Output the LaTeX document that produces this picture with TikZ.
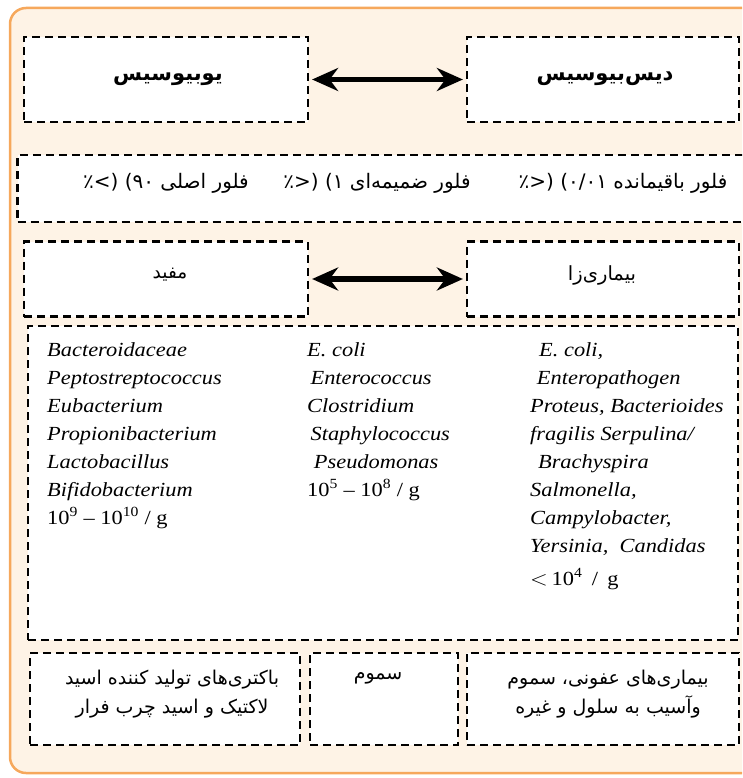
\documentclass[tikz,border=0pt]{standalone}
\usepackage{fontspec}
\setmainfont{Liberation Serif}
\newfontfamily\fa[Script=Arabic]{DejaVu Sans}
\usetikzlibrary{arrows.meta}
\TeXXeTstate=1
\definecolor{outerfill}{RGB}{254,243,230}
\definecolor{outerline}{RGB}{246,168,92}
\tikzset{
  dbox/.style={draw=black, line width=2.2pt, dash pattern=on 8pt off 5pt, fill=white, inner sep=0pt},
  dblarrow/.style={line width=5.5pt, {Stealth[length=26pt,width=23pt]}-{Stealth[length=26pt,width=23pt]}, shorten >=3pt, shorten <=3pt},
  titletext/.style={font=\fa\bfseries\fontsize{21}{26}\selectfont, inner sep=0pt},
  fatext/.style={font=\fa\fontsize{19}{29}\selectfont, inner sep=0pt, align=center},
  floratext/.style={font=\fa\fontsize{20}{26}\selectfont, inner sep=0pt},
  labeltext/.style={font=\fa\fontsize{18.5}{24}\selectfont, inner sep=0pt},
  latcol/.style={anchor=north west, align=left, inner sep=0pt, xscale=1.12, font=\fontsize{20}{28}\selectfont\itshape},
}
\begin{document}
\begin{tikzpicture}[x=1pt,y=-1pt]
\useasboundingbox (0,0) rectangle (742,778);
\clip (0,0) rectangle (742,778);
% outer panel
\draw[outerline, fill=outerfill, line width=2.5pt, rounded corners=16pt] (10,8) rectangle (760,773);
% top row
\node[dbox, minimum width=284, minimum height=85] (eu) at (166,79.5) {};
\node[titletext] at (168,79) {\beginR یوبیوسیس\endR};
\node[dbox, minimum width=272, minimum height=85] (dys) at (603,79.5) {};
\node[titletext] at (605,79) {\beginR دیس‌بیوسیس\endR};
\draw[dblarrow] (eu.east) -- (dys.west);
% flora band
\node[dbox, minimum width=745, minimum height=67] (flora) at (390,188.5) {};
\node[floratext] (f1) at (623,183) {\beginR فلور باقیمانده \beginL\hbox{(<٪}\ \hbox{۰/۰۱)}\endL\endR};
\node[floratext] (f2) at (377,183) {\beginR فلور ضمیمه‌ای \beginL\hbox{(<٪}\ \hbox{۱)}\endL\endR};
\node[floratext] (f3) at (166,183) {\beginR فلور اصلی \beginL\hbox{(>٪}\ \hbox{۹۰)}\endL\endR};
% second row
\node[dbox, minimum width=284, minimum height=75] (mf) at (166,279) {};
\node[labeltext] at (170,275) {\beginR مفید\endR};
\node[dbox, minimum width=272, minimum height=75] (bz) at (603,279) {};
\node[labeltext, font=\fa\fontsize{19.5}{24}\selectfont] at (602,275) {\beginR بیماری‌زا\endR};
\draw[dblarrow] (mf.east) -- (bz.west);
% big box
\node[dbox, minimum width=710, minimum height=314] (big) at (383,483) {};
\node[latcol] (c1) at (47,342) {Bacteroidaceae\\Peptostreptococcus\\Eubacterium\\Propionibacterium\\Lactobacillus\\Bifidobacterium\\\upshape 10\textsuperscript{9} – 10\textsuperscript{10} / g};
\node[latcol] (c2) at (307,342) {E. coli\\\hspace*{3pt}Enterococcus\\Clostridium\\\hspace*{3pt}Staphylococcus\\\hspace*{6pt}Pseudomonas\\\upshape 10\textsuperscript{5} – 10\textsuperscript{8} / g};
\node[latcol] (c3) at (530,342) {\hspace*{8pt}E. coli,\\\hspace*{6pt}Enteropathogen\\Proteus, Bacterioides\\fragilis Serpulina/\\\hspace*{7pt}Brachyspira\\Salmonella,\\Campylobacter,\\Yersinia,\ \ Candidas\\[5pt]\upshape $<$\,10\textsuperscript{4}\ \,/\ \,g};
% bottom row
\node[dbox, minimum width=270, minimum height=92] (acid) at (165,699) {};
\node[fatext] at (172,694) {\beginR باکتری‌های تولید کننده اسید\endR\\\beginR لاکتیک و اسید چرب فرار\endR};
\node[dbox, minimum width=148, minimum height=92] (tox) at (384,699) {};
\node[fatext] at (378,678) {\beginR سموم\endR};
\node[dbox, minimum width=272, minimum height=92] (dis) at (603,699) {};
\node[fatext] at (608,694) {\beginR بیماری‌های عفونی، سموم\endR\\\beginR وآسیب به سلول و غیره\endR};
\end{tikzpicture}
\end{document}
